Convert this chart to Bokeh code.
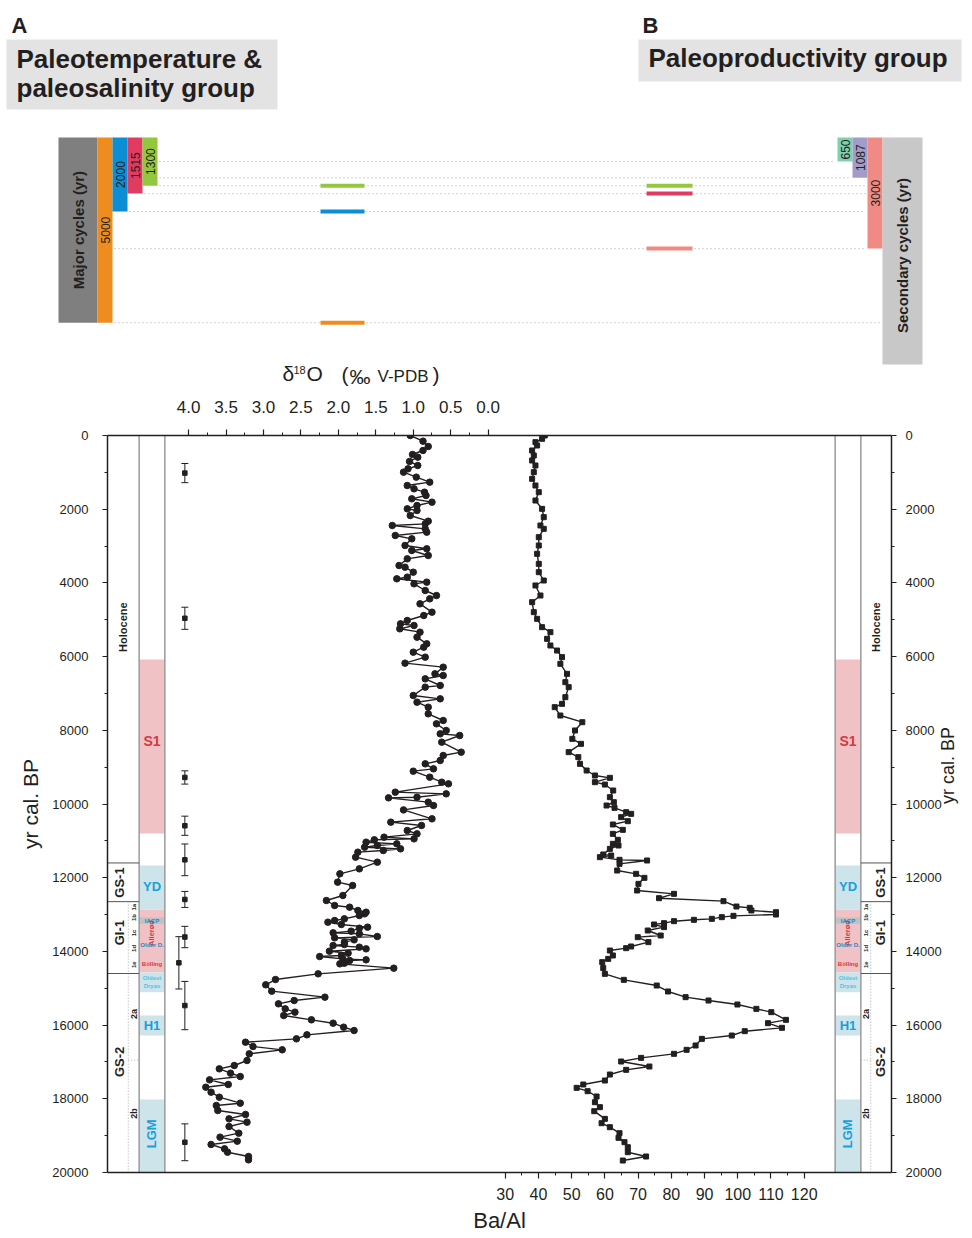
import math
from bokeh.plotting import figure
from bokeh.models import Range1d, LinearAxis, FixedTicker, NumeralTickFormatter, BasicTickFormatter
from bokeh.layouts import column
from bokeh.embed import file_html
from bokeh.resources import INLINE
from bokeh.core.properties import value

FONT = "Liberation Sans"
INK = "#231F20"

# ---------------- data ----------------
d18o_age = [0, 154, 298, 407, 515, 588, 705, 814, 904, 995, 1130, 1266, 1357, 1447, 1538, 1628, 1718, 1809,
            1899, 1990, 2035, 2171, 2325, 2397, 2442, 2533, 2623, 2713, 2804, 2985, 3075, 3120, 3256, 3347,
            3528, 3573, 3709, 3844, 3889, 3980, 4025, 4206, 4342, 4432, 4568, 4794, 4885, 5020, 5111, 5156,
            5246, 5337, 5473, 5653, 5744, 5880, 6015, 6178, 6287, 6468, 6513, 6603, 6784, 6829, 7056, 7146,
            7237, 7372, 7553, 7734, 7824, 8005, 8096, 8141, 8322, 8593, 8684, 8820, 8910, 9046, 9109, 9272,
            9408, 9453, 9679, 9724, 9815, 9833, 9950, 10041, 10160, 10402, 10493, 10583, 10719, 10810, 10900,
            10946, 10972, 11036, 11081, 11126, 11172, 11217, 11262, 11307, 11443, 11579, 11760, 11895, 12121,
            12212, 12483, 12619, 12755, 12800, 12890, 12936, 12981, 13026, 13116, 13162, 13207, 13270, 13342,
            13370, 13451, 13496, 13523, 13596, 13632, 13686, 13749, 13813, 13840, 13885, 13931, 13994, 14048,
            14111, 14139, 14202, 14229, 14247, 14320, 14338, 14455, 14609, 14763, 14907, 15079, 15242, 15333,
            15423, 15559, 15649, 15740, 15857, 15948, 16056, 16147, 16264, 16373, 16464, 16581, 16671, 16780,
            16961, 17097, 17187, 17305, 17395, 17486, 17612, 17685, 17820, 17956, 18119, 18182, 18318, 18426,
            18544, 18634, 18752, 18933, 19041, 19150, 19240, 19358, 19449, 19566, 19657]
d18o_val = [1.04, 0.87, 0.80, 0.87, 1.01, 0.94, 1.05, 0.94, 1.07, 1.13, 0.96, 0.78, 1.08, 0.99, 0.85, 0.83, 1.02, 0.75,
            0.95, 1.08, 0.95, 1.04, 0.80, 0.84, 1.28, 0.84, 0.82, 1.24, 1.02, 1.11, 0.82, 1.02, 0.80, 1.08,
            1.19, 1.11, 1.00, 1.08, 1.22, 0.82, 0.99, 0.84, 0.69, 0.78, 0.91, 0.75, 0.86, 1.08, 1.17, 0.99,
            1.18, 0.91, 0.95, 0.82, 0.86, 1.00, 0.84, 1.11, 0.60, 0.71, 0.60, 0.84, 0.64, 0.84, 1.00, 0.64,
            0.95, 0.80, 0.80, 0.60, 0.69, 0.56, 0.64, 0.38, 0.62, 0.36, 0.60, 0.64, 0.84, 0.73, 1.00, 0.78,
            0.62, 0.53, 1.24, 0.56, 0.95, 1.33, 0.80, 0.73, 1.13, 0.75, 1.30, 0.89, 1.08, 0.95, 1.39,
            0.99, 1.52, 1.63, 1.22, 1.48, 1.65, 1.17, 1.40, 1.74, 1.77, 1.48, 1.72, 1.98, 2.01,
            1.81, 1.94, 2.16, 2.05, 1.85, 1.74, 1.63, 1.65, 1.72, 1.92, 2.05, 2.14, 1.96, 1.61,
            1.72, 1.83, 2.07, 1.72, 1.48, 2.05, 1.79, 1.92, 1.92, 2.07, 1.72, 1.63, 2.12, 1.87,
            1.96, 2.25, 1.94, 1.63, 1.85, 1.92, 1.98, 1.26, 2.27, 2.84, 2.97, 2.89, 2.18, 2.59,
            2.80, 2.71, 2.58, 2.73, 2.36, 2.07, 1.93, 1.79, 2.42, 2.56, 3.24, 3.14, 2.75, 3.19,
            3.22, 3.39, 3.59, 3.44, 3.31, 3.72, 3.47, 3.77, 3.70, 3.59, 3.31, 3.63, 3.61, 3.24,
            3.46, 3.22, 3.46, 3.33, 3.58, 3.35, 3.70, 3.52, 3.48, 3.20, 3.20]

baal_age = [0, 90, 181, 271, 407, 542, 678, 814, 995, 1176, 1357, 1538, 1764, 1990, 2216, 2442, 2533, 2759,
            2985, 3211, 3483, 3709, 3935, 4070, 4342, 4523, 4794, 4975, 5201, 5337, 5518, 5699, 5835, 6015,
            6196, 6468, 6694, 6829, 7101, 7282, 7372, 7599, 7780, 8005, 8232, 8367, 8593, 8729, 8910, 9091,
            9227, 9290, 9408, 9472, 9634, 9815, 9951, 10041, 10104, 10222, 10267, 10357, 10466, 10556, 10701,
            10810, 10972, 11081, 11126, 11217, 11370, 11398, 11443, 11515, 11533, 11624, 11805, 11895, 12004,
            12167, 12347, 12438, 12556, 12637, 12782, 12818, 12890, 12936, 12999, 13035, 13071, 13116, 13143,
            13180, 13234, 13270, 13342, 13433, 13569, 13614, 13749, 13867, 13912, 13976, 14111, 14202, 14292,
            14450, 14609, 14772, 14926, 15088, 15242, 15333, 15441, 15559, 15649, 15857, 15948, 16074, 16165,
            16283, 16373, 16554, 16671, 16780, 16889, 16988, 17124, 17214, 17341, 17504, 17612, 17703, 17793,
            17938, 18092, 18227, 18336, 18544, 18662, 18770, 18933, 19059, 19177, 19313, 19449, 19566, 19675]
baal_val = [41.9, 41.1, 39.1, 39.6, 38.1, 38.6, 38.1, 39.1, 38.6, 38.1, 39.1, 40.1, 39.1, 41.1, 41.6, 40.6, 41.6, 40.1,
            40.1, 39.6, 40.1, 40.1, 41.6, 39.1, 40.6, 38.1, 38.6, 39.6, 41.1, 43.6, 42.6, 43.6, 45.6, 47.1,
            46.6, 48.6, 48.1, 49.1, 48.1, 47.1, 44.9, 46.6, 53.2, 51.0, 50.2, 52.8, 49.1, 52.0, 52.5, 54.5,
            57.0, 61.5, 57.0, 60.0, 62.5, 61.5, 62.7, 60.5, 62.9, 66.4, 67.9, 64.9, 66.9, 62.4, 65.4,
            62.4, 63.9, 62.4, 64.1, 61.5, 59.5, 61.9, 58.5, 64.4, 72.7, 64.4, 63.7, 69.4, 71.9,
            70.1, 69.7, 80.8, 76.3, 95.7, 99.6, 103.6, 104.1, 111.5, 111.5, 98.7, 95.2, 92.2, 86.8,
            80.8, 77.8, 74.8, 77.8, 72.9, 76.8, 69.9, 73.1, 67.9, 66.4, 61.5, 62.4, 61.0, 59.2,
            59.5, 60.0, 65.7, 75.6, 79.0, 84.3, 91.2, 99.9, 105.6, 110.1, 114.5, 109.1, 113.3, 102.1,
            98.2, 89.2, 87.3, 84.6, 80.8, 70.9, 64.9, 73.4, 66.4, 61.5, 60.0, 53.5, 51.5, 54.8,
            57.5, 57.0, 58.5, 56.8, 60.0, 59.0, 61.5, 64.4, 64.1, 65.9, 66.9, 66.9, 72.4, 65.4]

# radiocarbon age control points (yr cal. BP) with 2-sigma errors
ctrl_age = [1020, 4960, 9280, 10590, 11515, 12590, 13610, 14310, 15470, 19180]
ctrl_err = [260, 300, 180, 260, 430, 217, 290, 710, 655, 500]
ctrl_col = [4.05, 4.05, 4.05, 4.05, 4.05, 4.05, 4.05, 4.13, 4.05, 4.05]

# cycle periods (yr)
major_periods = [5000, 2000, 1515, 1300]
major_colors = ["#EE8C1D", "#0B8ED4", "#E13B61", "#93C83E"]
secondary_periods = [650, 1087, 3000]
secondary_colors = ["#7ED0AF", "#A29CC9", "#EF8B84"]
groupA_cycles = [1300, 2000, 5000]
groupB_cycles = [1300, 1515, 3000]

# chronostratigraphy
zone_names = ["Holocene", "GS-1", "GI-1", "GS-2"]
zone_top = [0, 11600, 12650, 14600]
zone_bottom = [11600, 12650, 14600, 20000]
zone_label_age = [5200, 12130, 13490, 17000]
sub_names = ["1a", "1b", "1c", "1d", "1e", "2a", "2b"]
sub_age = [12800, 13080, 13500, 13920, 14360, 15700, 18400]
gs2_split = 16950

warm_top = [6080, 12860]
warm_bottom = [10800, 14570]
cold_top = [11670, 14570, 15740, 18020]
cold_bottom = [12860, 15110, 16280, 20000]
iacp_top = [13080]
iacp_bottom = [13250]

y_ticks = list(range(0, 20001, 2000))
y_minor = list(range(1000, 20000, 2000))
d18o_ticks = [0.0, 0.5, 1.0, 1.5, 2.0, 2.5, 3.0, 3.5, 4.0]
d18o_minor = [0.25, 0.75, 1.25, 1.75, 2.25, 2.75, 3.25, 3.75]
baal_ticks = list(range(30, 121, 10))
baal_minor = list(range(35, 120, 10))

period_color = dict(zip(major_periods + secondary_periods, major_colors + secondary_colors))

PINK = "#F1C2C5"
LBLUE = "#CDE4EB"
RED = "#D33A3C"
BLUE = "#18A0DC"

W = 970
H_TOP = 392
H_MAIN = 844


def txt(fig, x, y, s, size, color=INK, style="normal", angle=0.0, align="center",
        baseline="middle", rng="default"):
    fig.text(x=[x], y=[y], text=[s], text_font=value(FONT), text_font_size=f"{size}px",
             text_color=color, text_font_style=style, angle=angle, text_align=align,
             text_baseline=baseline, x_range_name=rng)


# ---------------- top panel: cycles ----------------
Y0, K = 137, 27.0


def ty(yref):
    return (yref - Y0) * K


tp = figure(width=W, height=H_TOP, x_range=Range1d(0, W), y_range=Range1d(ty(H_TOP), ty(0)),
            x_axis_type=None, y_axis_type=None, toolbar_location=None, output_backend="svg",
            min_border=0, outline_line_color=None)
tp.frame_align = False
tp.xgrid.visible = False
tp.ygrid.visible = False

# titles
tp.quad(left=[6], right=[277], top=[ty(39)], bottom=[ty(109)], fill_color="#E3E3E3", line_color=None)
tp.quad(left=[638], right=[961], top=[ty(39)], bottom=[ty(81)], fill_color="#E3E3E3", line_color=None)
txt(tp, 11, ty(24.5), "A", 22, style="bold", align="left")
txt(tp, 642, ty(24.5), "B", 22, style="bold", align="left")
txt(tp, 16, ty(58.5), "Paleotemperature &", 26, style="bold", align="left")
txt(tp, 16, ty(87.5), "paleosalinity group", 26, style="bold", align="left")
txt(tp, 648, ty(57.7), "Paleoproductivity group", 26, style="bold", align="left")

# major cycle bars
BW = 15
MX0 = 97
tp.quad(left=[58], right=[MX0], top=[0], bottom=[max(major_periods)], fill_color="#7F7F7F", line_color=None)
txt(tp, 77.5, max(major_periods) / 2, "Major cycles (yr)", 15, style="bold", angle=math.pi / 2)
maj_right = {}
for i, (per, col) in enumerate(zip(major_periods, major_colors)):
    l = MX0 + BW * i
    tp.quad(left=[l], right=[l + BW], top=[0], bottom=[per], fill_color=col, line_color=None)
    txt(tp, l + BW / 2, per / 2, str(per), 12, angle=math.pi / 2)
    maj_right[per] = l + BW

# secondary cycle bars
SX0 = 837
sec_left = {}
for i, (per, col) in enumerate(zip(secondary_periods, secondary_colors)):
    l = SX0 + BW * i
    tp.quad(left=[l], right=[l + BW], top=[0], bottom=[per], fill_color=col, line_color=None)
    txt(tp, l + BW / 2, per / 2, str(per), 12, angle=math.pi / 2)
    sec_left[per] = l
GX = SX0 + BW * len(secondary_periods)
tp.quad(left=[GX], right=[GX + 40], top=[0], bottom=[ty(364)], fill_color="#C8C8C8", line_color=None)
txt(tp, GX + 20, ty(255), "Secondary cycles (yr)", 15, style="bold", angle=math.pi / 2)

# dotted guide lines
levels = sorted(set(major_periods + secondary_periods))
for L in levels:
    x0 = max([maj_right[p] for p in major_periods if p >= L]) + 2
    lefts = [sec_left[p] for p in secondary_periods if p >= L]
    x1 = (min(lefts) if lefts else GX) - 2
    tp.segment(x0=[x0], y0=[L], x1=[x1], y1=[L], line_color="#A8A8A8", line_width=1, line_dash="1 3")

for L in groupA_cycles:
    tp.segment(x0=[320], y0=[L], x1=[364], y1=[L], line_color=period_color[L], line_width=4)
for L in groupB_cycles:
    tp.segment(x0=[646], y0=[L], x1=[692], y1=[L], line_color=period_color[L], line_width=4)

# delta18O axis title
txt(tp, 282, ty(372.5), "\u03b4", 21, align="left")
txt(tp, 293, ty(369), "18", 11, align="left")
txt(tp, 306, ty(372.5), "O", 21, align="left")
txt(tp, 341, ty(373.5), "(", 21, align="left")
txt(tp, 349, ty(375.5), "\u2030", 21, align="left")
txt(tp, 377, ty(375.5), "V-PDB", 17, align="left")
txt(tp, 432, ty(373.5), ")", 21, align="left")

# ---------------- main panel ----------------
mp = figure(width=W, height=H_MAIN, x_range=Range1d(-89.73, 146.28), y_range=Range1d(20000, 0),
            toolbar_location=None, output_backend="svg", outline_line_color=None,
            min_border_left=107, min_border_right=W - 900, min_border_top=435 - H_TOP,
            min_border_bottom=H_TOP + H_MAIN - 1172)
mp.frame_align = False
mp.extra_x_ranges = {"d18o": Range1d(5.083, -5.386), "px": Range1d(107, 900)}
mp.xgrid.visible = False
mp.ygrid.visible = False


def style_axis(ax, size):
    ax.axis_line_color = INK
    ax.axis_line_width = 1.5
    ax.major_tick_line_color = INK
    ax.minor_tick_line_color = INK
    ax.major_tick_line_width = 1.2
    ax.minor_tick_line_width = 1.0
    ax.major_tick_in = 0
    ax.minor_tick_in = 0
    ax.major_label_text_font = FONT
    ax.major_label_text_font_size = f"{size}px"
    ax.major_label_text_color = INK
    ax.axis_label_text_font = FONT
    ax.axis_label_text_font_style = "normal"
    ax.axis_label_text_color = INK


# bottom Ba/Al axis
xa = mp.xaxis[0]
xa.ticker = FixedTicker(ticks=baal_ticks, minor_ticks=baal_minor)
style_axis(xa, 16)
xa.major_tick_out = 6
xa.minor_tick_out = 3
xa.major_label_standoff = 9
xa.axis_label = "Ba/Al"
xa.axis_label_text_font_size = "22px"
xa.axis_label_standoff = 5

# top delta18O axis
ta = LinearAxis(x_range_name="d18o", ticker=FixedTicker(ticks=d18o_ticks, minor_ticks=d18o_minor),
                formatter=NumeralTickFormatter(format="0.0"))
style_axis(ta, 17)
ta.major_tick_out = 6
ta.minor_tick_out = 3
ta.major_label_standoff = 17
mp.add_layout(ta, "above")

# left y axis
ya = mp.yaxis[0]
ya.ticker = FixedTicker(ticks=y_ticks, minor_ticks=y_minor)
ya.formatter = BasicTickFormatter(use_scientific=False)
style_axis(ya, 13)
ya.major_tick_out = 5
ya.minor_tick_out = 3
ya.major_label_standoff = 14
ya.axis_label = "yr cal. BP"
ya.axis_label_text_font_size = "21px"
ya.axis_label_standoff = 7

# right y axis
ra = LinearAxis(ticker=FixedTicker(ticks=y_ticks, minor_ticks=y_minor),
                formatter=BasicTickFormatter(use_scientific=False))
style_axis(ra, 13)
ra.major_tick_out = 5
ra.minor_tick_out = 3
ra.major_label_standoff = 9
ra.axis_label = "yr cal. BP"
ra.axis_label_text_font_size = "18px"
ra.axis_label_standoff = 3
try:
    ra.axis_label_orientation = math.pi / 2
    ra.axis_label_text_align = "center"
except Exception:
    pass
mp.add_layout(ra, "right")

# stratigraphic columns (left: col1 107-139, col2 139-165; right: col2 843-869, col1 869-900)
for c2l, c1l, c1r, subx, side in [(139, 107, 139, 128, "L"), (843, 869, 900, 879, "R")]:
    c2r = c2l + 26
    mp.quad(left=c2l, right=c2r, top=warm_top, bottom=warm_bottom, fill_color=PINK, line_color=None,
            x_range_name="px")
    mp.quad(left=c2l, right=c2r, top=cold_top, bottom=cold_bottom, fill_color=LBLUE, line_color=None,
            x_range_name="px")
    mp.quad(left=c2l, right=c2r, top=iacp_top, bottom=iacp_bottom, fill_color="#BCC2C7", line_color=None,
            x_range_name="px")
    mp.segment(x0=[c2l, c2r], y0=[0, 0], x1=[c2l, c2r], y1=[20000, 20000], line_color="#9A9A9A",
               line_width=1.5, x_range_name="px")
    bnds = zone_bottom[:-1]
    mp.segment(x0=[c1l] * len(bnds), y0=bnds, x1=[c1r] * len(bnds), y1=bnds, line_color="#555555",
               line_width=1, x_range_name="px")
    mp.segment(x0=[subx], y0=[zone_top[2]], x1=[subx], y1=[20000], line_color="#AAAAAA", line_width=1,
               line_dash="1 2", x_range_name="px")
    sub_in = c1r if side == "L" else c1l
    mp.segment(x0=[subx], y0=[gs2_split], x1=[sub_in], y1=[gs2_split], line_color="#AAAAAA", line_width=1,
               line_dash="1 2", x_range_name="px")

    cx2 = c2l + 13
    txt(mp, cx2, 8300, "S1", 14, color=RED, style="bold", rng="px")
    txt(mp, cx2, 12250, "YD", 13, color=BLUE, style="bold", rng="px")
    txt(mp, cx2, 13165, "IACP", 6, color="#1E88C8", style="bold", rng="px")
    txt(mp, cx2, 13500, "Aller\u00f8d", 7.5, color=RED, style="bold", angle=math.pi / 2, rng="px")
    txt(mp, cx2, 13830, "Older D.", 6, color="#1E88C8", style="bold", rng="px")
    txt(mp, cx2, 14330, "B\u00f6lling", 6, color=RED, style="bold", rng="px")
    txt(mp, cx2, 14730, "Oldest", 6, color="#5DBDE4", style="bold", rng="px")
    txt(mp, cx2, 14940, "Dryas", 6, color="#5DBDE4", style="bold", rng="px")
    txt(mp, cx2, 16010, "H1", 13, color=BLUE, style="bold", rng="px")
    txt(mp, cx2, 18950, "LGM", 13, color=BLUE, style="bold", angle=math.pi / 2, rng="px")

    holo_x = (c1l + c1r) / 2
    if side == "L":
        main_x = (c1l + subx) / 2 + 2
        sub_x = (subx + c1r) / 2
    else:
        main_x = (subx + c1r) / 2 - 1
        sub_x = (c1l + subx) / 2
    for name, a in zip(zone_names, zone_label_age):
        if name == "Holocene":
            txt(mp, holo_x, a, name, 11, style="bold", angle=math.pi / 2, rng="px")
        else:
            txt(mp, main_x, a, name, 13, style="bold", angle=math.pi / 2, rng="px")
    for name, a in zip(sub_names, sub_age):
        sz = 9 if name.startswith("2") else 6
        txt(mp, sub_x, a, name, sz, style="bold", angle=math.pi / 2, rng="px")

# age control points
lo = [a - e for a, e in zip(ctrl_age, ctrl_err)]
hi = [a + e for a, e in zip(ctrl_age, ctrl_err)]
mp.segment(x0=ctrl_col, y0=lo, x1=ctrl_col, y1=hi, line_color=INK, line_width=1, x_range_name="d18o")
mp.scatter(x=ctrl_col + ctrl_col, y=lo + hi, marker="dash", size=7, line_color=INK, line_width=1,
           x_range_name="d18o")
mp.scatter(x=ctrl_col, y=ctrl_age, marker="square", size=4.5, fill_color=INK, line_color=INK,
           x_range_name="d18o")

# delta18O record
mp.line(x=d18o_val, y=d18o_age, line_color=INK, line_width=1.4, x_range_name="d18o")
mp.scatter(x=d18o_val, y=d18o_age, marker="circle", size=6.5, fill_color=INK, line_color=INK,
           x_range_name="d18o")

# Ba/Al record
mp.line(x=baal_val, y=baal_age, line_color=INK, line_width=1.4)
mp.scatter(x=baal_val, y=baal_age, marker="square", size=5, fill_color=INK, line_color=INK)

layout = column(tp, mp, spacing=0)
open("out.html", "w").write(file_html(layout, INLINE))
